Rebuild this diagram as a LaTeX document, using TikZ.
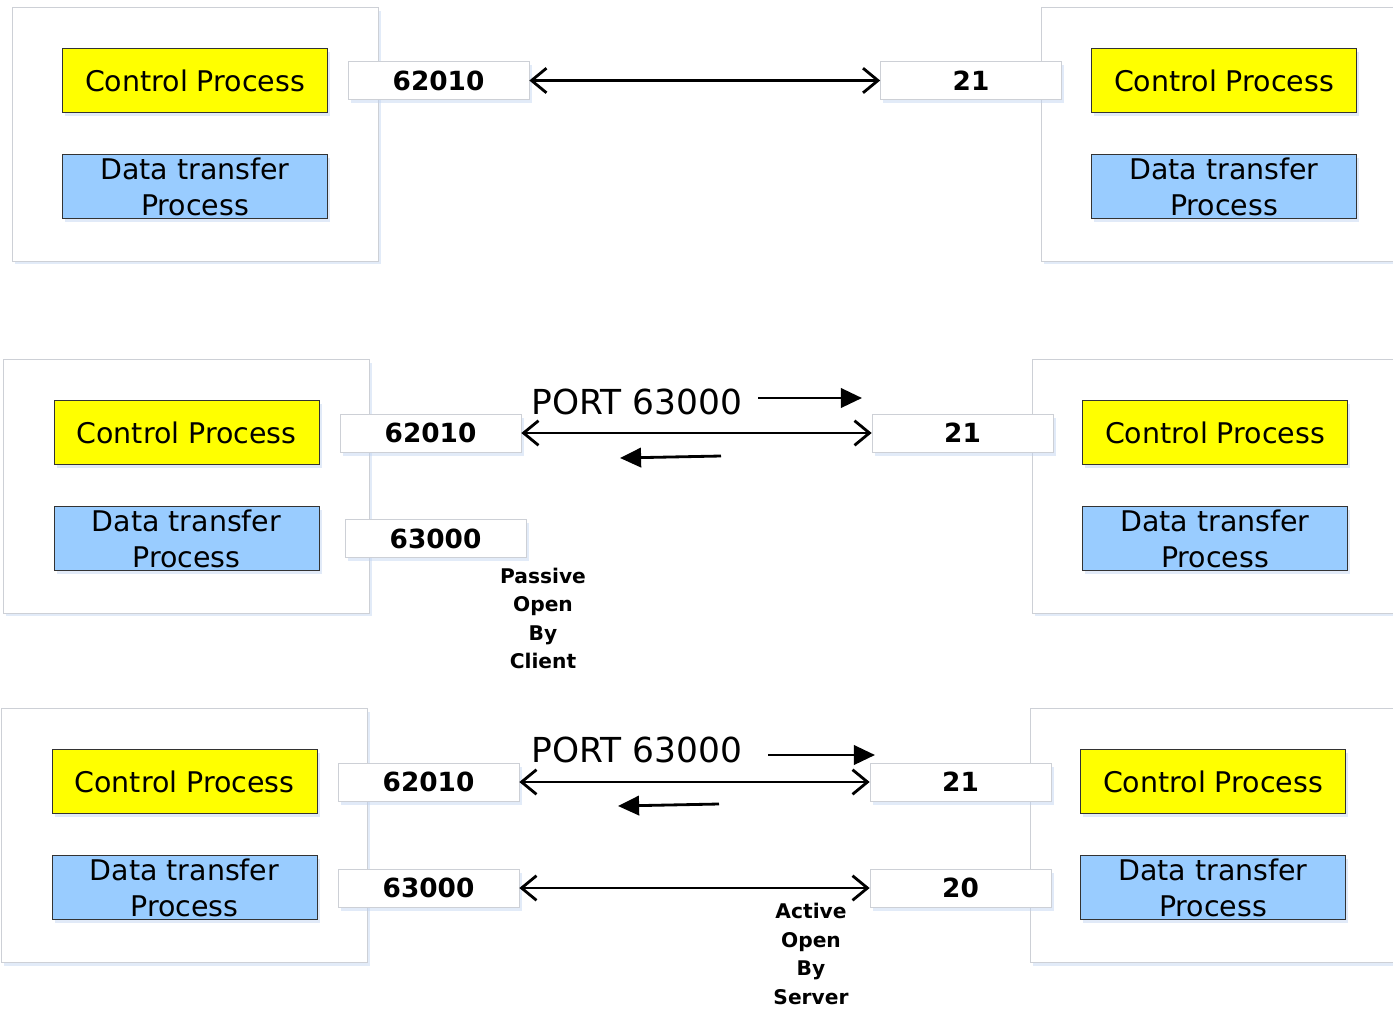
\documentclass[tikz,border=0pt]{standalone}
\usepackage{fontspec}
\setmainfont{DejaVu Sans}
\usetikzlibrary{arrows.meta}
\usetikzlibrary{shadows}
\definecolor{ctrlYellow}{RGB}{255,255,0}
\definecolor{dataBlue}{RGB}{153,204,255}
\definecolor{frameGray}{RGB}{205,208,214}
\definecolor{glowBlue}{RGB}{190,210,240}
\newcommand{\hostBox}[3]{%%
  %% The host frame.
  \node[frameStyle] (#1) at (#2,#3) {};
  %% The control process.
  \node[ctrlStyle] (#1ctrl) at (#2,#3-53.5) {Control Process};
  %% The data transfer process.
  \node[dataStyle] (#1data) at (#2,#3+52.5) {Data transfer\\Process};
}
\newcommand{\portBox}[4]{%%
  \node[portStyle] (#1) at (#2,#3) {#4};
}

\begin{document}
\begin{tikzpicture}[%%
  x=0.02cm,y=-0.02cm,
  shadowStyle/.style={drop shadow={shadow xshift=1.5pt,shadow yshift=-2pt,fill=glowBlue,opacity=0.45}},
  frameStyle/.style={draw=frameGray,fill=white,minimum width=7.32cm,minimum height=5.08cm,shadowStyle},
  ctrlStyle/.style={draw=black!80,fill=ctrlYellow,minimum width=5.3cm,minimum height=1.28cm,font=\fontsize{16.2}{18}\selectfont,shadowStyle},
  dataStyle/.style={draw=black!80,fill=dataBlue,minimum width=5.3cm,minimum height=1.28cm,align=center,inner sep=0pt,font=\fontsize{16.2}{20.4}\selectfont,shadowStyle},
  portStyle/.style={draw=frameGray,fill=white,minimum width=3.62cm,minimum height=0.76cm,font=\fontsize{15}{18}\selectfont\bfseries,shadowStyle},
  noteStyle/.style={align=center,font=\fontsize{11.5}{16.2}\selectfont\bfseries},
  linkStyle/.style={{Straight Barb[length=8.5pt,width=14pt]}-{Straight Barb[length=8.5pt,width=14pt]},line width=1.6pt},
  dirStyle/.style={-{Triangle[length=12pt,width=11pt]},line width=1.6pt}
]
\useasboundingbox (0,0) rectangle (1393,1008);
%%
%% First row: the control connection.
\hostBox{clientA}{195}{134}
\hostBox{serverA}{1224}{134}
\portBox{clientAcp}{438.5}{80.5}{62010}
\portBox{serverAcp}{971}{80.5}{21}
\draw[linkStyle] (clientAcp.east) -- (serverAcp.west);
%%
%% Second row: passive open by the client.
\hostBox{clientB}{186.5}{486}
\hostBox{serverB}{1215}{486}
\portBox{clientBcp}{430.5}{433}{62010}
\portBox{serverBcp}{962.5}{433}{21}
\portBox{clientBdp}{435.5}{538.5}{63000}
\draw[linkStyle] (clientBcp.east) -- (serverBcp.west);
\node[font=\fontsize{19.6}{20}\selectfont] (portB) at (637,402) {PORT 63000};
\coordinate (sendBa) at (758,398);
\coordinate (sendBb) at (862,398);
\coordinate (replyBa) at (721,456);
\coordinate (replyBb) at (620,458);
\draw[dirStyle] (sendBa) -- (sendBb);
\draw[dirStyle] (replyBa) -- (replyBb);
\node[noteStyle] (noteB) at (543,618.5) {Passive\\Open\\By\\Client};
%%
%% Third row: active open by the server.
\hostBox{clientC}{184.5}{835}
\hostBox{serverC}{1213}{835}
\portBox{clientCcp}{428.5}{782}{62010}
\portBox{serverCcp}{960.5}{782}{21}
\portBox{clientCdp}{428.5}{888}{63000}
\portBox{serverCdp}{960.5}{888}{20}
\draw[linkStyle] (clientCcp.east) -- (serverCcp.west);
\draw[linkStyle] (clientCdp.east) -- (serverCdp.west);
\node[font=\fontsize{19.6}{20}\selectfont] (portC) at (637,750) {PORT 63000};
\coordinate (sendCa) at (768,755);
\coordinate (sendCb) at (875,755);
\coordinate (replyCa) at (719,804);
\coordinate (replyCb) at (618,806);
\draw[dirStyle] (sendCa) -- (sendCb);
\draw[dirStyle] (replyCa) -- (replyCb);
\node[noteStyle] (noteC) at (811,954) {Active\\Open\\By\\Server};
\end{tikzpicture}
\end{document}
